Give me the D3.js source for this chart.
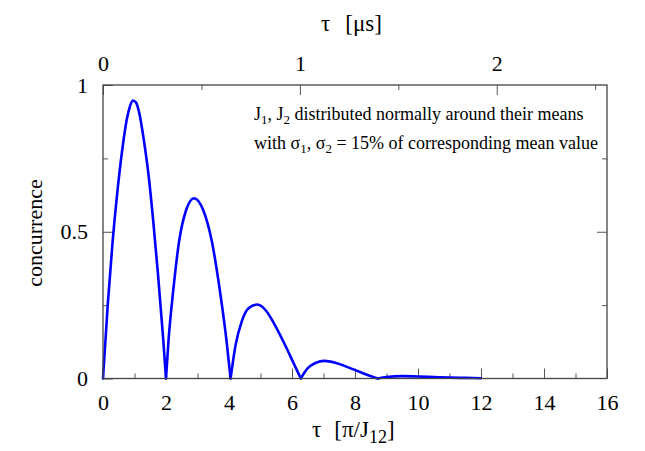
<!DOCTYPE html>
<html>
<head>
<meta charset="utf-8">
<script src="https://cdn.jsdelivr.net/npm/d3@7"></script>
<style>
  html, body { margin: 0; padding: 0; background: #fff; }
  svg { display: block; }
  text { font-family: "Liberation Serif", "Times New Roman", serif; fill: #000; }
</style>
</head>
<body>
<svg id="chart" width="645" height="451"></svg>
<script>
// ---- data ----
const tau = [
  0, 0.15, 0.30, 0.45, 0.60, 0.75, 0.85, 0.95, 1.05, 1.15, 1.30, 1.45, 1.60, 1.75, 1.90, 2.0,
  2.08, 2.23, 2.42, 2.64, 2.89, 3.18, 3.45, 3.71, 3.92, 4.05,
  4.21, 4.40, 4.62, 4.90, 5.19, 5.40, 5.78, 6.03, 6.28,
  6.50, 6.75, 7.03, 7.40, 7.95, 8.40, 8.72,
  9.0, 9.5, 10.0, 10.5, 11.0, 11.5, 12.0
];
const concurrence = [
  0, 0.25, 0.46, 0.63, 0.77, 0.88, 0.925, 0.947, 0.94, 0.905, 0.81, 0.69, 0.53, 0.35, 0.15, 0,
  0.13, 0.30, 0.47, 0.574, 0.614, 0.574, 0.47, 0.30, 0.13, 0,
  0.114, 0.193, 0.239, 0.252, 0.229, 0.193, 0.114, 0.057, 0,
  0.035, 0.053, 0.060, 0.053, 0.031, 0.012, 0,
  0.005, 0.008, 0.007, 0.005, 0.003, 0.002, 0.001
];
const bottomMajorTicks = [0, 2, 4, 6, 8, 10, 12, 14, 16];
const bottomMinorTicks = [1, 3, 5, 7, 9, 11, 13, 15];
const leftMajorTicks = [0, 0.5, 1];
const leftMinorTicks = [0.25, 0.75];
const topMajorTicks = [0, 1, 2];
const topMinorTicks = [0.5, 1.5, 2.5];
const xDomain = [0, 16];
const yDomain = [0, 1];
const topDomain = [0, 2.56];   // tau in microseconds
const annotationLines = [
  [["J", 0], ["1", 1], [", J", 0], ["2", 1], [" distributed normally around their means", 0]],
  [["with σ", 0], ["1", 1], [", σ", 0], ["2", 1], [" = 15% of corresponding mean value", 0]]
];

// ---- layout ----
const L = 103, R = 607, T = 85, B = 378.5;
const svg = d3.select("#chart");
const x = d3.scaleLinear(xDomain, [L, R]);
const y = d3.scaleLinear(yDomain, [B, T]);
const xTop = d3.scaleLinear(topDomain, [L, R]);

const axisColor = "#444";
function styleAxis(g, fs) {
  g.select(".domain").remove();
  g.selectAll(".tick line").attr("stroke", "#555").attr("stroke-width", 1);
  g.selectAll(".tick text").attr("font-size", fs + "px")
    .attr("font-family", '"Liberation Serif", serif').attr("fill", "#000");
}
const fmt = d => String(d);

// bottom
svg.append("g").attr("transform", `translate(0,${B})`)
  .call(d3.axisBottom(x).tickValues(bottomMajorTicks).tickSizeInner(-10).tickSizeOuter(0).tickPadding(16).tickFormat(fmt))
  .call(g => styleAxis(g, 22));
svg.append("g").attr("transform", `translate(0,${B})`)
  .call(d3.axisBottom(x).tickValues(bottomMinorTicks).tickSizeInner(-5).tickSizeOuter(0).tickFormat(""))
  .call(g => styleAxis(g, 22));
// left
svg.append("g").attr("transform", `translate(${L},0)`)
  .call(d3.axisLeft(y).tickValues(leftMajorTicks).tickSizeInner(-10).tickSizeOuter(0).tickPadding(15).tickFormat(fmt))
  .call(g => styleAxis(g, 22));
svg.append("g").attr("transform", `translate(${L},0)`)
  .call(d3.axisLeft(y).tickValues(leftMinorTicks).tickSizeInner(-5).tickSizeOuter(0).tickFormat(""))
  .call(g => styleAxis(g, 22));
// right
svg.append("g").attr("transform", `translate(${R},0)`)
  .call(d3.axisRight(y).tickValues(leftMajorTicks.filter(v => v > 0 && v < 1)).tickSizeInner(-10).tickSizeOuter(0).tickFormat(""))
  .call(g => styleAxis(g, 22));
svg.append("g").attr("transform", `translate(${R},0)`)
  .call(d3.axisRight(y).tickValues(leftMinorTicks).tickSizeInner(-5).tickSizeOuter(0).tickFormat(""))
  .call(g => styleAxis(g, 22));
// top
svg.append("g").attr("transform", `translate(0,${T})`)
  .call(d3.axisTop(xTop).tickValues(topMajorTicks).tickSizeInner(-10).tickSizeOuter(0).tickPadding(14).tickFormat(fmt))
  .call(g => styleAxis(g, 22));
svg.append("g").attr("transform", `translate(0,${T})`)
  .call(d3.axisTop(xTop).tickValues(topMinorTicks).tickSizeInner(-5).tickSizeOuter(0).tickFormat(""))
  .call(g => styleAxis(g, 22));

// curve: split into humps at zeros so cusps stay sharp
const pts = tau.map((t, i) => [t, concurrence[i]]);
const segments = [];
let cur = [pts[0]];
for (let i = 1; i < pts.length; i++) {
  cur.push(pts[i]);
  if (pts[i][1] === 0 && i < pts.length - 1) { segments.push(cur); cur = [pts[i]]; }
}
segments.push(cur);
const line = d3.line().x(d => x(d[0])).y(d => y(d[1])).curve(d3.curveMonotoneX);
svg.append("g").selectAll("path").data(segments).join("path")
  .attr("d", line).attr("fill", "none").attr("stroke", "#0000ff")
  .attr("stroke-width", 2.6).attr("stroke-linejoin", "round").attr("stroke-linecap", "round");

// frame
svg.append("rect").attr("x", L).attr("y", T).attr("width", R - L).attr("height", B - T)
  .attr("fill", "none").attr("stroke", axisColor).attr("stroke-width", 1.3);

// axis titles
const bt = svg.append("text").attr("x", 312).attr("y", 437).attr("font-size", "23px");
bt.append("tspan").text("τ");
bt.append("tspan").attr("dx", 13).text("[π/J");
bt.append("tspan").attr("font-size", "18px").attr("dy", 6).text("12");
bt.append("tspan").attr("dy", -6).text("]");

const tt = svg.append("text").attr("x", 321).attr("y", 31).attr("font-size", "23px");
tt.append("tspan").text("τ");
tt.append("tspan").attr("dx", 15).text("[μs]");

svg.append("text").attr("transform", "translate(42,233) rotate(-90)")
  .attr("text-anchor", "middle").attr("font-size", "22px").text("concurrence");

// annotation
const baselines = [119.5, 148.5];
annotationLines.forEach((parts, li) => {
  const t = svg.append("text").attr("x", 254).attr("y", baselines[li]).attr("font-size", "18px");
  let shifted = false;
  parts.forEach(([s, sub]) => {
    const ts = t.append("tspan").text(s);
    if (sub && !shifted) { ts.attr("font-size", "13px").attr("dy", 4); shifted = true; }
    else if (!sub && shifted) { ts.attr("dy", -4); shifted = false; }
  });
});
</script>
</body>
</html>
